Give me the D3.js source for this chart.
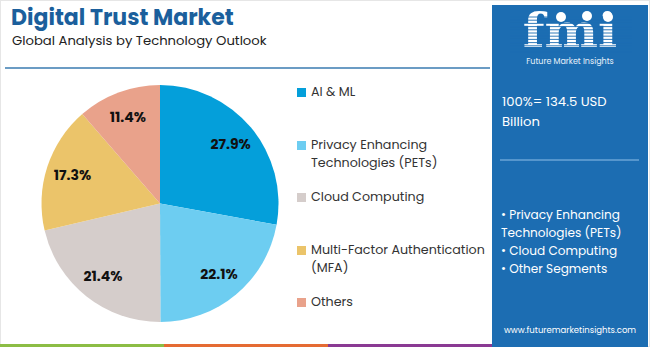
<!DOCTYPE html>
<html><head><meta charset="utf-8">
<script src="https://cdn.jsdelivr.net/npm/d3@7"></script>
<style>body{margin:0;background:#fff}svg{display:block}</style>
</head><body>
<script>
const categories = ["AI & ML", "Privacy Enhancing Technologies (PETs)", "Cloud Computing", "Multi-Factor Authentication (MFA)", "Others"];
const legendLines = [["AI & ML"], ["Privacy Enhancing", "Technologies (PETs)"], ["Cloud Computing"], ["Multi-Factor Authentication", "(MFA)"], ["Others"]];
const values = [27.9, 22.1, 21.4, 17.3, 11.4];
const colors = ["#049fda", "#6dcdf1", "#d5cdcb", "#ebc46a", "#e9a28b"];
const totalText = ["100%= 134.5 USD", "Billion"];
const highlights = [["• Privacy Enhancing", "Technologies (PETs)"], ["• Cloud Computing"], ["• Other Segments"]];

const W = 650, H = 347;
const font = "Poppins, 'Open Sans', Lato, sans-serif";
const svg = d3.select("body").append("svg").attr("width", W).attr("height", H).style("font-family", font);
svg.append("rect").attr("width", W).attr("height", H).attr("fill", "#fff");
svg.append("rect").attr("x", 0.5).attr("y", 0.5).attr("width", W - 1).attr("height", H - 1).attr("fill", "none").attr("stroke", "#e6e6e6");

// title
svg.append("text").attr("x", 11).attr("y", 25).text("Digital Trust Market")
  .attr("font-size", 22).attr("font-weight", 700).attr("fill", "#1b5f9c");
svg.append("text").attr("x", 12).attr("y", 45).text("Global Analysis by Technology Outlook")
  .attr("font-size", 13.2).attr("fill", "#222");
svg.append("line").attr("x1", 5).attr("x2", 490).attr("y1", 68).attr("y2", 68).attr("stroke", "#3a7bb0").attr("stroke-width", 1.5);

// pie
const cx = 160, cy = 203.5, R = 118.5;
const pie = d3.pie().sort(null).value(d => d)(values);
const arc = d3.arc().innerRadius(0).outerRadius(R);
const labelArc = d3.arc().innerRadius(92).outerRadius(92);
const g = svg.append("g").attr("transform", `translate(${cx},${cy})`);
g.selectAll("path").data(pie).join("path").attr("d", arc).attr("fill", (d, i) => colors[i]);
g.selectAll("text").data(pie).join("text")
  .attr("transform", d => `translate(${labelArc.centroid(d)})`)
  .attr("text-anchor", "middle").attr("dy", "0.35em")
  .attr("font-size", 14).attr("font-weight", 700).attr("fill", "#111")
  .text(d => d.data.toFixed(1) + "%");

// legend
const legY = [92, 145, 197, 250, 302];
const lg = svg.append("g");
legendLines.forEach((lines, i) => {
  lg.append("rect").attr("x", 297).attr("y", legY[i] - 4).attr("width", 9).attr("height", 9).attr("fill", colors[i]);
  lines.forEach((t, j) => {
    lg.append("text").attr("x", 311).attr("y", legY[i] + j * 18).attr("dy", "0.35em")
      .attr("font-size", 12.7).attr("fill", "#333").text(t);
  });
});

// right panel
svg.append("rect").attr("x", 492).attr("y", 5).attr("width", 156).attr("height", H - 5).attr("fill", "#1c6db2");
// logo
const logo = svg.append("g");
logo.append("text").attr("x", 570).attr("y", 47).attr("text-anchor", "middle")
  .attr("font-family", "'DejaVu Serif', serif").attr("font-weight", 700).attr("font-size", 44)
  .attr("fill", "#fff").attr("transform", "translate(570,47) scale(1.15,1.05) translate(-570,-47)").text("fmi");
for (let y = 17; y < 53; y += 3.2) {
  logo.append("line").attr("x1", 510).attr("x2", 632).attr("y1", y).attr("y2", y).attr("stroke", "#1c6db2").attr("stroke-width", 0.9);
}
[[561, 17], [587, 16], [608, 17]].forEach(p => logo.append("circle").attr("cx", p[0]).attr("cy", p[1]).attr("r", 5).attr("fill", "#fff"));
logo.append("text").attr("x", 570).attr("y", 64).attr("text-anchor", "middle").attr("font-size", 8).attr("fill", "#e8f1fa").text("Future Market Insights");

totalText.forEach((t, j) => svg.append("text").attr("x", 502).attr("y", 101 + j * 20).attr("dy", "0.35em")
  .attr("font-size", 13.2).attr("fill", "#fff").text(t));
svg.append("line").attr("x1", 500).attr("x2", 639).attr("y1", 160).attr("y2", 160).attr("stroke", "#8fc0e8").attr("stroke-width", 1);

let hy = 215;
highlights.forEach(lines => lines.forEach(t => {
  svg.append("text").attr("x", 501).attr("y", hy).attr("dy", "0.35em").attr("font-size", 12.1).attr("fill", "#fff").text(t);
  hy += 17.8;
}));
svg.append("text").attr("x", 570).attr("y", 333).attr("text-anchor", "middle").attr("font-size", 8.5).attr("fill", "#fff").text("www.futuremarketinsights.com");

// bottom strip
const stripColors = ["#8cbd45", "#e56b33", "#8a3a93"];
stripColors.forEach((c, i) => svg.append("rect").attr("x", i * 164).attr("y", 344).attr("width", 164).attr("height", 3).attr("fill", c));
</script>
</body></html>
